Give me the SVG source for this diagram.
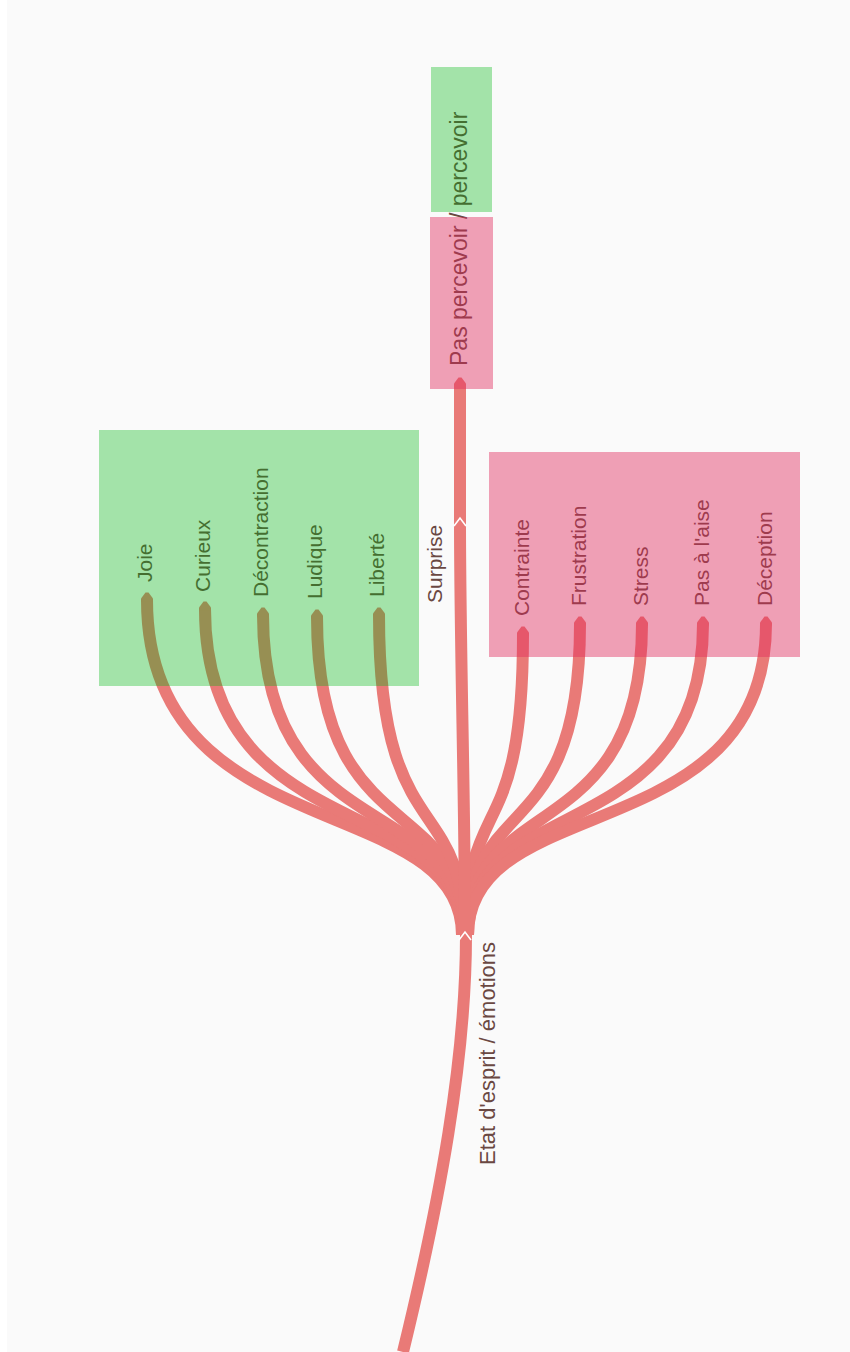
<svg xmlns="http://www.w3.org/2000/svg" width="850" height="1352" viewBox="0 0 850 1352">
  <style>
    .edge { fill: none; stroke: #e97a77; stroke-width: 12; stroke-linecap: butt; }
    .lbl { font-family: "Liberation Sans", Arial, sans-serif; font-size: 21px; fill: #6a4842; }
    .green { fill: #00b812; opacity: 0.35; }
    .pink { fill: #e12b5d; opacity: 0.44; }
    .chev { fill: none; stroke: #ffffff; stroke-width: 1.6; stroke-linejoin: miter; }
  </style>
  <defs>
    <marker id="tip" markerUnits="userSpaceOnUse" viewBox="-1 -7 10 14" markerWidth="10" markerHeight="14" refX="0.5" refY="0" orient="auto">
      <path d="M-1,-6 L2,-6 L8,-1.5 L8,1.5 L2,6 L-1,6 Z" fill="#e97a77"/>
    </marker>
  </defs>
  <rect x="0" y="0" width="850" height="1352" fill="#fafafa"/>
  <rect x="0" y="0" width="7" height="1352" fill="#ffffff"/>

  <g id="connectors">
    <path class="edge" d="M403,1352 C440,1200 466,1060 466,935"/>
    <path class="edge" d="M462,935 C462,790 147,850 147,600" marker-end="url(#tip)"/>
    <path class="edge" d="M463,935 C463,790 205,850 205,609" marker-end="url(#tip)"/>
    <path class="edge" d="M463,935 C463,790 263,850 263,615" marker-end="url(#tip)"/>
    <path class="edge" d="M464,935 C464,790 317,850 317,617" marker-end="url(#tip)"/>
    <path class="edge" d="M464,935 C464,790 379,850 379,615" marker-end="url(#tip)"/>
    <path class="edge" d="M466,935 C466,790 523,850 523,634" marker-end="url(#tip)"/>
    <path class="edge" d="M467,935 C467,790 580,850 580,624" marker-end="url(#tip)"/>
    <path class="edge" d="M467,935 C467,790 642,850 642,624" marker-end="url(#tip)"/>
    <path class="edge" d="M468,935 C468,790 703,850 703,624" marker-end="url(#tip)"/>
    <path class="edge" d="M468,935 C468,790 766,850 766,624" marker-end="url(#tip)"/>
    <path class="edge" d="M465,935 C465,800 460,650 460,520"/>
    <path class="edge" d="M460,520 L460,385" marker-end="url(#tip)"/>
    <polyline class="chev" points="459,940 465,932 471,940"/>
    <polyline class="chev" points="454,526 460,518 466,526"/>
    <text class="lbl" style="font-size:22px" transform="translate(487,1165) rotate(-90)" dy="0.35em">Etat d'esprit / émotions</text>
    <text class="lbl" transform="translate(435,603) rotate(-90)" dy="0.35em">Surprise</text>
  </g>

  <g id="node-positive">
    <text class="lbl" transform="translate(145,582) rotate(-90)" dy="0.35em">Joie</text>
    <text class="lbl" transform="translate(203,592) rotate(-90)" dy="0.35em">Curieux</text>
    <text class="lbl" transform="translate(261,597) rotate(-90)" dy="0.35em">Décontraction</text>
    <text class="lbl" transform="translate(315,599) rotate(-90)" dy="0.35em">Ludique</text>
    <text class="lbl" transform="translate(377,597) rotate(-90)" dy="0.35em">Liberté</text>
    <rect class="green" x="99" y="430" width="320" height="256"/>
  </g>

  <g id="node-negative">
    <text class="lbl" transform="translate(522,616) rotate(-90)" dy="0.35em">Contrainte</text>
    <text class="lbl" transform="translate(579,606) rotate(-90)" dy="0.35em">Frustration</text>
    <text class="lbl" transform="translate(641,606) rotate(-90)" dy="0.35em">Stress</text>
    <text class="lbl" transform="translate(702,606) rotate(-90)" dy="0.35em">Pas à l'aise</text>
    <text class="lbl" transform="translate(765,606) rotate(-90)" dy="0.35em">Déception</text>
    <rect class="pink" x="489" y="452" width="311" height="205"/>
  </g>

  <g id="node-pas-percevoir">
    <text class="lbl" style="font-size:23px" transform="translate(459,366) rotate(-90)" dy="0.35em">Pas percevoir / percevoir</text>
    <rect class="pink" x="430" y="217" width="63" height="172"/>
  </g>

  <g id="node-percevoir">
    <rect class="green" x="431" y="67" width="61" height="145"/>
  </g>
</svg>
